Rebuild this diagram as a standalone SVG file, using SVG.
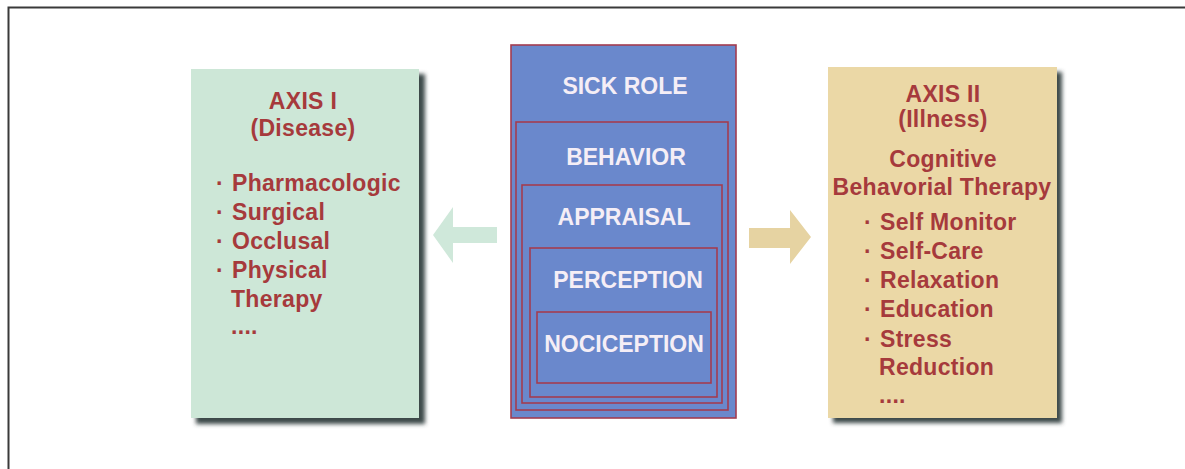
<svg xmlns="http://www.w3.org/2000/svg" width="1185" height="469" viewBox="0 0 1185 469">
<defs>
<filter id="sh" x="-10%" y="-10%" width="130%" height="130%">
<feGaussianBlur stdDeviation="2"/>
</filter>
<style>
.t{font-family:"Liberation Sans",Arial,sans-serif;font-weight:bold;font-size:23px;fill:#a63a3c;letter-spacing:0.3px}
.c{text-anchor:middle}
.w{font-family:"Liberation Sans",Arial,sans-serif;font-weight:bold;font-size:23px;fill:#f5eef6;text-anchor:middle}
.box{stroke:#a33c50;stroke-width:1.6;fill:#6a88cc}
</style>
</defs>
<rect width="1185" height="469" fill="#ffffff"/>
<g id="frame" fill="none" stroke="#3a3a3a" stroke-width="2">
<path d="M1185 7.5 H8.5 V469"/>
</g>
<g id="axis1">
<rect x="196" y="74" width="229" height="350" fill="#3e4a4a" filter="url(#sh)"/>
<rect x="191" y="69" width="228" height="349" fill="#cde7d7"/>
<text class="t c" x="303" y="109">AXIS I</text>
<text class="t c" x="303" y="136">(Disease)</text>
<text class="t" x="216" y="191">· <tspan x="232">Pharmacologic</tspan></text>
<text class="t" x="216" y="220">· <tspan x="232">Surgical</tspan></text>
<text class="t" x="216" y="249">· <tspan x="232">Occlusal</tspan></text>
<text class="t" x="216" y="278">· <tspan x="232">Physical</tspan></text>
<text class="t" x="231" y="307">Therapy</text>
<text class="t" x="231" y="334">....</text>
</g>
<g id="center">
<rect class="box" x="511" y="45" width="225" height="373"/>
<rect class="box" x="516" y="122" width="212" height="288"/>
<rect class="box" x="522" y="185" width="200" height="218"/>
<rect class="box" x="530" y="248" width="187" height="149"/>
<rect class="box" x="537" y="312" width="174" height="71"/>
<text class="w" x="625" y="94">SICK ROLE</text>
<text class="w" x="626" y="165">BEHAVIOR</text>
<text class="w" x="624" y="225">APPRAISAL</text>
<text class="w" x="628" y="288">PERCEPTION</text>
<text class="w" x="624" y="352">NOCICEPTION</text>
</g>
<g id="axis2">
<rect x="833" y="72" width="229" height="351" fill="#3e4a4a" filter="url(#sh)"/>
<rect x="828" y="67" width="229" height="351" fill="#ebd8a6"/>
<text class="t c" x="943" y="102">AXIS II</text>
<text class="t c" x="943" y="127">(Illness)</text>
<text class="t c" x="943" y="167">Cognitive</text>
<text class="t c" x="942" y="195">Behavorial Therapy</text>
<text class="t" x="864" y="230">· <tspan x="880">Self Monitor</tspan></text>
<text class="t" x="864" y="259">· <tspan x="880">Self-Care</tspan></text>
<text class="t" x="864" y="288">· <tspan x="880">Relaxation</tspan></text>
<text class="t" x="864" y="317">· <tspan x="880">Education</tspan></text>
<text class="t" x="864" y="347">· <tspan x="880">Stress</tspan></text>
<text class="t" x="879" y="375">Reduction</text>
<text class="t" x="879" y="403">....</text>
</g>
<g id="connectors">
<path d="M497 227 H453 V207 L433 235 L453 263 V243 H497 Z" fill="#cfe8da"/>
<path d="M749 228 H790 V210 L811 237 L790 264 V248 H749 Z" fill="#e6d3a2"/>
</g>
</svg>
